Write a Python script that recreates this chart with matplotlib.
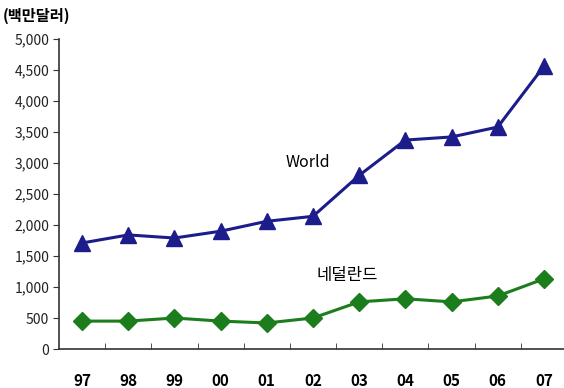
import matplotlib
matplotlib.use('Agg')
import matplotlib.pyplot as plt
from matplotlib.ticker import FuncFormatter, FixedLocator

plt.rcParams['font.family'] = ['Noto Sans CJK KR', 'DejaVu Sans']

years = ['97', '98', '99', '00', '01', '02', '03', '04', '05', '06', '07']
world = [1710, 1840, 1790, 1900, 2060, 2140, 2800, 3370, 3420, 3580, 4560]
netherlands = [450, 450, 500, 450, 420, 500, 760, 810, 760, 855, 1130]

fig = plt.figure(figsize=(5.64, 3.88), dpi=100)
ax = fig.add_axes([0.1046, 0.1005, 0.9007, 0.799])

x = list(range(len(years)))
ax.plot(x, world, '-^', color='#1c1c8a', lw=2.2, ms=11, mec='#1c1c8a')
ax.plot(x, netherlands, '-D', color='#1b7d1b', lw=2.2, ms=9, mec='#1b7d1b')

ax.set_xlim(-0.5, len(years) - 0.5)
ax.set_ylim(0, 5000)
ax.set_yticks(range(0, 5001, 500))
ax.yaxis.set_major_formatter(FuncFormatter(lambda v, p: f'{int(v):,}'))
ax.set_xticks(x)
ax.set_xticklabels(years, fontweight='bold', fontsize=11)
ax.xaxis.set_minor_locator(FixedLocator([i + 0.5 for i in x]))
ax.tick_params(axis='x', which='major', length=0, pad=17)
ax.tick_params(axis='x', which='minor', direction='in', length=4, color='#333333')
ax.tick_params(axis='y', direction='out', length=4, labelsize=10, colors='#333333',
               labelcolor='#222222', pad=3)

for s in ['top', 'right']:
    ax.spines[s].set_visible(False)
for s in ['left', 'bottom']:
    ax.spines[s].set_color('#333333')
    ax.spines[s].set_linewidth(1.2)

ax.text(4.9, 3000, 'World', fontsize=11.5, ha='center', va='center')
ax.text(5.75, 1180, '네덜란드', fontsize=12, ha='center', va='center')
fig.text(0.005, 0.98, '(백만달러)', fontsize=11, fontweight='bold', va='top', ha='left')

fig.savefig('out.png', dpi=100)
